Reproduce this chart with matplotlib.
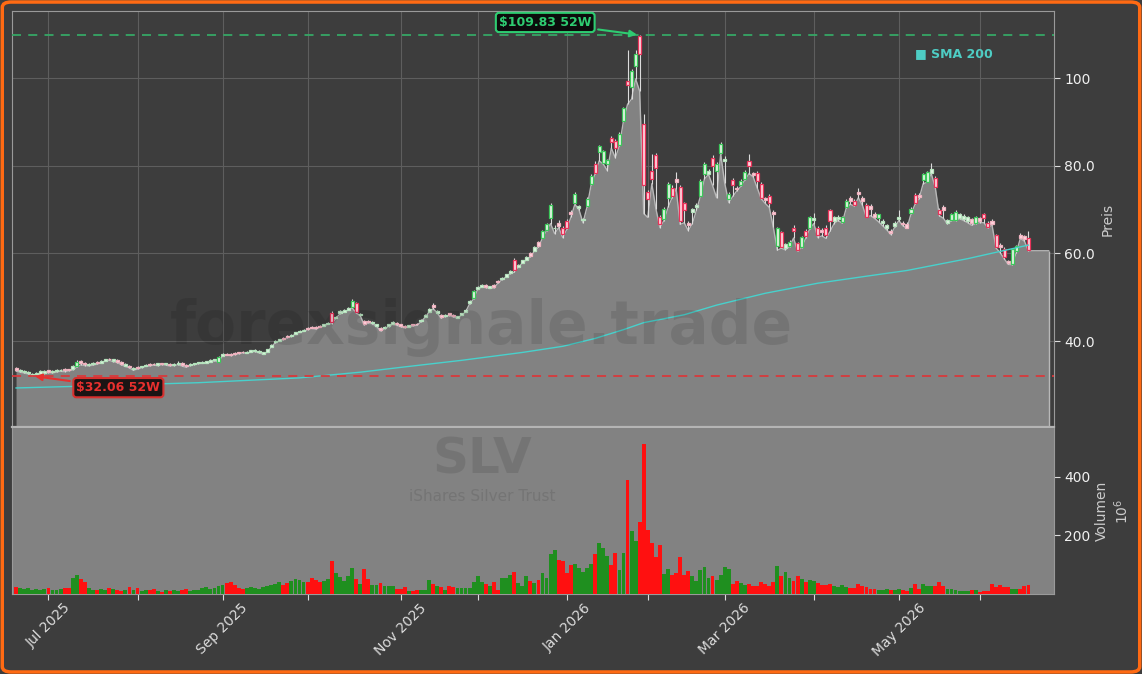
import numpy as np
import pandas as pd
import matplotlib
matplotlib.use("Agg")
import matplotlib.pyplot as plt
from matplotlib.patches import FancyBboxPatch
from matplotlib.ticker import FuncFormatter

# trading calendar
start_day = "2025-06-18"
holidays = ["2025-06-19", "2025-07-04", "2025-09-01", "2025-11-27", "2025-12-25",
            "2026-01-01", "2026-01-19", "2026-02-16", "2026-04-03", "2026-05-25"]

# daily OHLC (USD)
opens = [
    33.9, 33.1, 32.9, 32.7, 32.3, 32.5, 32.6, 32.8, 33.3, 32.9,
    33.1, 33.3, 33.6, 33.5, 33.6, 34.2, 35.5, 35.0, 34.5, 34.7,
    35.2, 35.1, 35.5, 36.0, 35.5, 35.6, 35.2, 34.4, 34.4, 33.6,
    34.0, 34.0, 34.3, 34.7, 34.8, 34.6, 34.9, 34.7, 34.8, 34.5,
    34.7, 35.0, 34.5, 34.5, 34.7, 34.9, 35.0, 35.1, 35.3, 35.6,
    35.3, 36.7, 37.1, 37.0, 37.2, 37.4, 37.6, 37.3, 37.6, 37.7,
    37.4, 37.1, 37.5, 38.7, 39.7, 40.1, 40.7, 41.1, 41.1, 41.7,
    42.1, 42.3, 43.0, 43.3, 43.1, 43.5, 43.5, 43.9, 46.4, 45.3,
    46.3, 46.7, 47.1, 47.7, 48.6, 46.0, 44.6, 44.6, 44.1, 43.5,
    43.0, 42.9, 43.4, 43.9, 44.1, 43.8, 43.5, 43.3, 43.8, 44.0,
    44.5, 45.5, 46.7, 48.2, 46.5, 45.9, 45.7, 46.3, 46.0, 45.3,
    46.0, 46.7, 48.6, 49.8, 51.9, 52.4, 52.8, 52.1, 52.8, 53.8,
    54.1, 54.7, 55.5, 58.6, 56.9, 57.9, 58.5, 60.0, 60.6, 62.5,
    63.6, 65.3, 68.0, 65.7, 67.0, 65.7, 67.3, 69.5, 71.4, 70.4,
    67.6, 70.9, 75.9, 80.5, 83.2, 80.7, 80.5, 86.4, 85.7, 84.8,
    90.2, 99.4, 97.9, 102.7, 109.5, 89.5, 74.0, 78.9, 82.5, 68.2,
    67.8, 72.7, 75.0, 77.0, 75.2, 71.4, 67.0, 69.5, 70.5, 73.2,
    78.2, 78.2, 81.8, 78.9, 83.0, 81.1, 72.5, 76.8, 75.0, 75.6,
    77.0, 81.1, 78.3, 78.4, 75.9, 72.6, 73.2, 69.5, 61.8, 64.8,
    61.3, 61.8, 65.9, 62.3, 61.5, 65.2, 65.9, 67.6, 65.9, 65.4,
    65.9, 69.8, 67.5, 67.9, 67.1, 70.5, 72.6, 72.0, 73.9, 72.7,
    71.1, 70.9, 69.0, 68.0, 67.0, 65.7, 65.2, 66.2, 67.8, 66.9,
    66.8, 69.3, 73.4, 73.4, 76.8, 76.4, 78.4, 77.3, 70.0, 70.5,
    66.9, 67.7, 67.7, 68.1, 67.8, 67.5, 67.8, 67.0, 68.0, 68.9,
    67.0, 67.5, 64.1, 62.0, 61.1, 58.2, 57.5, 60.5, 64.3, 63.9, 63.6,
]
highs = [
    34.0, 33.6, 33.3, 33.1, 32.8, 32.9, 33.4, 33.3, 33.5, 33.4,
    33.6, 33.7, 33.8, 33.7, 34.6, 35.6, 35.7, 35.2, 35.0, 35.2,
    35.4, 35.6, 35.9, 36.2, 36.0, 35.8, 35.4, 34.9, 34.6, 34.0,
    34.2, 34.4, 34.7, 34.9, 35.1, 35.0, 35.1, 35.0, 35.0, 34.9,
    35.4, 35.2, 34.7, 34.9, 35.1, 35.3, 35.4, 35.5, 35.8, 36.0,
    36.6, 37.2, 37.3, 37.2, 37.4, 37.6, 37.8, 37.7, 38.0, 38.2,
    37.9, 37.6, 38.3, 39.3, 40.2, 40.5, 40.9, 41.3, 41.5, 42.1,
    42.5, 42.7, 43.2, 43.5, 43.4, 43.7, 43.9, 44.3, 46.8, 45.8,
    47.0, 47.4, 47.8, 49.5, 48.9, 46.4, 44.8, 44.8, 44.6, 44.0,
    43.2, 43.4, 43.9, 44.5, 44.3, 44.0, 43.7, 43.7, 44.0, 44.2,
    45.0, 46.1, 47.6, 48.6, 47.0, 46.1, 46.1, 46.5, 46.2, 45.8,
    46.4, 47.3, 49.3, 51.7, 52.6, 53.0, 53.0, 52.6, 53.0, 54.0,
    54.6, 55.3, 56.2, 59.0, 57.6, 58.6, 59.4, 60.3, 61.6, 62.8,
    65.3, 66.9, 71.6, 66.5, 67.6, 66.2, 67.8, 70.0, 73.9, 71.0,
    68.0, 72.8, 78.0, 81.0, 84.8, 83.6, 81.6, 86.8, 86.0, 87.6,
    93.5, 106.3, 102.0, 106.5, 109.83, 91.9, 74.4, 82.7, 83.0, 68.8,
    70.6, 76.3, 75.5, 78.6, 75.6, 71.8, 67.3, 70.4, 71.4, 76.9,
    80.8, 79.2, 82.5, 80.8, 85.3, 82.3, 74.0, 77.3, 75.4, 76.9,
    79.0, 82.7, 78.6, 78.8, 76.2, 72.9, 73.5, 69.8, 66.1, 65.2,
    62.3, 63.0, 66.4, 62.6, 63.9, 65.6, 68.6, 69.3, 66.3, 65.8,
    66.4, 70.2, 68.5, 68.8, 68.6, 72.4, 73.0, 72.5, 75.0, 73.0,
    71.4, 71.3, 69.4, 69.1, 67.8, 66.6, 65.5, 67.4, 69.8, 67.3,
    67.1, 70.5, 73.8, 73.8, 78.3, 78.9, 80.7, 77.7, 70.4, 71.0,
    67.8, 69.3, 69.9, 69.2, 69.0, 68.6, 68.1, 68.6, 68.4, 69.3,
    67.3, 67.8, 64.4, 62.3, 61.4, 58.5, 61.2, 61.9, 64.6, 64.2, 65.0,
]
lows = [
    33.2, 32.9, 32.7, 32.5, 32.06, 32.3, 32.4, 32.6, 32.8, 32.7,
    32.9, 33.1, 33.0, 33.2, 33.4, 34.0, 34.6, 34.4, 34.3, 34.5,
    34.7, 35.0, 35.4, 35.6, 35.3, 35.1, 34.6, 34.2, 33.9, 33.3,
    33.6, 33.9, 34.2, 34.3, 34.5, 34.4, 34.6, 34.5, 34.3, 34.4,
    34.6, 34.3, 34.0, 34.4, 34.6, 34.8, 34.9, 35.0, 35.2, 35.5,
    35.2, 36.6, 36.8, 36.7, 36.9, 37.1, 37.3, 37.2, 37.5, 37.6,
    37.3, 37.0, 37.4, 38.6, 39.6, 40.0, 40.3, 40.8, 41.0, 41.6,
    42.0, 42.2, 42.6, 42.9, 42.7, 43.1, 43.4, 43.8, 44.0, 45.2,
    46.2, 46.6, 47.0, 47.6, 46.4, 45.8, 43.6, 44.2, 44.0, 43.4,
    42.3, 42.8, 43.3, 43.8, 43.6, 43.3, 43.0, 43.2, 43.4, 43.6,
    44.4, 45.4, 46.6, 47.4, 46.4, 45.2, 45.6, 45.8, 45.5, 45.2,
    45.9, 46.6, 48.5, 49.6, 51.8, 52.3, 52.2, 52.0, 52.1, 53.2,
    54.0, 54.6, 55.4, 55.7, 56.8, 57.8, 58.4, 59.2, 60.5, 61.4,
    63.5, 65.2, 66.8, 64.5, 65.9, 63.6, 65.5, 68.2, 71.2, 70.0,
    67.0, 70.6, 75.6, 78.2, 81.1, 80.4, 78.9, 84.0, 81.8, 84.6,
    90.2, 94.0, 95.2, 99.8, 97.0, 69.1, 68.2, 75.9, 70.2, 65.9,
    67.5, 70.5, 72.7, 74.8, 66.6, 67.0, 65.2, 66.8, 69.8, 73.0,
    77.0, 78.0, 75.5, 72.7, 82.7, 76.0, 71.6, 73.0, 74.3, 75.3,
    76.8, 78.2, 77.5, 75.0, 72.5, 71.4, 70.5, 66.0, 60.7, 61.2,
    60.8, 61.5, 63.5, 60.5, 61.3, 63.5, 65.6, 66.8, 63.6, 64.0,
    63.4, 65.0, 66.8, 67.5, 66.9, 70.3, 71.2, 70.8, 72.7, 71.0,
    68.2, 68.6, 68.0, 67.2, 66.3, 65.4, 64.3, 66.0, 67.5, 66.3,
    65.7, 69.0, 71.2, 72.5, 75.9, 76.2, 78.2, 75.0, 68.6, 68.0,
    66.7, 67.5, 67.5, 67.9, 67.5, 67.0, 66.4, 66.8, 67.0, 67.0,
    65.8, 66.5, 61.2, 60.2, 58.8, 57.5, 57.4, 60.2, 63.4, 62.8, 60.6,
]
closes = [
    33.5, 33.3, 33.1, 32.9, 32.6, 32.7, 33.2, 33.1, 33.0, 33.2,
    33.4, 33.5, 33.3, 33.4, 34.4, 35.3, 35.0, 34.7, 34.8, 35.0,
    35.0, 35.4, 35.8, 35.8, 35.8, 35.3, 34.8, 34.7, 34.1, 33.8,
    33.8, 34.3, 34.6, 34.5, 34.7, 34.9, 34.8, 34.9, 34.5, 34.8,
    35.1, 34.5, 34.3, 34.8, 35.0, 35.2, 35.3, 35.4, 35.6, 35.9,
    36.4, 37.0, 36.9, 36.8, 37.0, 37.2, 37.4, 37.6, 37.9, 38.0,
    37.7, 37.4, 38.1, 39.1, 40.0, 40.4, 40.5, 40.9, 41.4, 42.0,
    42.4, 42.6, 42.8, 43.0, 42.9, 43.3, 43.8, 44.2, 44.3, 45.6,
    46.8, 47.2, 47.6, 49.1, 46.6, 46.2, 43.8, 44.4, 44.4, 43.8,
    42.5, 43.3, 43.8, 44.3, 43.8, 43.5, 43.2, 43.6, 43.6, 43.8,
    44.9, 46.0, 47.4, 47.7, 46.8, 45.5, 46.0, 46.0, 45.7, 45.7,
    46.3, 47.1, 49.1, 51.4, 52.4, 52.8, 52.4, 52.5, 52.3, 53.4,
    54.5, 55.2, 56.0, 56.1, 57.4, 58.4, 59.2, 59.5, 61.4, 61.8,
    65.0, 66.6, 71.1, 65.9, 66.3, 64.5, 65.9, 68.9, 73.6, 70.8,
    67.9, 72.5, 77.7, 78.4, 84.5, 83.4, 81.4, 85.5, 84.1, 87.3,
    93.2, 98.4, 101.6, 105.4, 105.4, 75.5, 72.4, 77.0, 79.5, 66.8,
    70.2, 75.9, 73.2, 76.4, 67.5, 69.8, 66.4, 70.2, 71.1, 76.6,
    80.5, 78.9, 80.0, 80.5, 85.0, 81.6, 73.5, 75.5, 74.6, 76.6,
    78.6, 80.0, 77.9, 76.6, 72.7, 72.1, 71.6, 68.9, 65.7, 61.4,
    62.1, 62.7, 65.0, 60.7, 63.7, 64.0, 68.2, 68.0, 64.1, 64.8,
    64.1, 67.5, 68.2, 68.4, 68.2, 72.0, 72.0, 71.1, 73.6, 72.0,
    68.4, 70.2, 68.4, 68.9, 67.5, 66.4, 64.6, 67.0, 68.4, 66.6,
    65.9, 70.2, 71.4, 72.8, 78.0, 78.6, 79.3, 75.2, 68.9, 70.0,
    67.6, 68.9, 69.5, 68.9, 68.6, 68.3, 66.9, 68.2, 67.3, 68.0,
    66.1, 66.8, 61.4, 61.4, 59.1, 57.7, 60.9, 61.6, 63.6, 63.2, 60.7,
]
# daily volume in millions of shares
volumes = [
    25, 22, 18, 20, 15, 17, 14, 16, 20, 15, 14, 16, 22, 20,
    55, 65, 50, 40,
    20, 15, 12, 18, 14, 22, 16, 12, 10, 14, 25, 12, 20,
    10, 12, 15, 18, 10, 8, 12, 10, 14, 9, 12, 16, 10, 12, 14, 20, 25, 18, 22, 28,
    32, 38, 40, 30, 22, 18, 20, 24, 22, 18, 25, 28,
    30, 35, 40, 32, 38, 45, 52, 48, 40, 42, 55, 48, 40, 45, 52,
    112, 70, 58, 45, 62, 88, 52, 35, 85, 50, 30, 32,
    37, 26, 26, 28, 17, 17, 25, 11, 11, 13,
    15, 15, 49, 34, 28, 23, 15, 28, 25, 20,
    20, 22, 20, 40, 62, 42, 34, 28, 42, 15,
    54, 54, 66, 76, 37, 28, 62, 45, 37, 47,
    71, 56, 136, 150, 115, 113, 71, 99, 102, 90,
    76, 90, 102, 136, 174, 156, 130, 99, 139, 82,
    139, 390, 215, 181, 245, 511, 218, 174, 127, 167,
    68, 86, 66, 71, 127, 66, 79, 62, 45, 82,
    93, 53, 62, 49, 66, 93, 85, 34, 45, 37,
    32, 34, 28, 28, 42, 35, 28, 42, 94,
    60, 75, 55, 45, 62, 50, 40, 48, 45, 38, 30, 32, 35, 28, 25, 30, 24, 20,
    19, 34, 28, 25, 18, 18, 14, 14, 18, 14,
    12, 18, 12, 10, 20, 34, 18, 34, 28, 28,
    28, 42, 28, 18, 18, 15, 10, 10, 10, 15,
    15, 8, 10, 10, 34, 25, 30, 25, 25, 18,
    18, 18, 28, 30,
]
# 200-day simple moving average, sampled along the curve
sma_idx = [0, 20, 45, 70, 85, 95, 110, 125, 135, 143, 150, 155, 165, 173, 185, 198, 210, 220, 235, 250]
sma_vals = [29.3, 29.8, 30.5, 31.6, 32.9, 34.0, 35.6, 37.4, 38.8, 40.6, 42.6, 44.2, 46.0, 48.2, 50.9,
            53.2, 54.8, 56.1, 58.8, 61.9]

n = min(len(opens), len(highs), len(lows), len(closes), len(volumes))
o = np.array(opens[:n])
h = np.array(highs[:n])
l = np.array(lows[:n])
c = np.array(closes[:n])
v = np.array(volumes[:n])
x = np.arange(n)
up = c >= o

days = pd.bdate_range(start_day, periods=n + 30)
days = days[~days.isin(pd.to_datetime(holidays))][:n]

BG = "#3d3d3d"
FILL = "#828282"
fig = plt.figure(figsize=(11.42, 6.74), dpi=100, facecolor=BG)
ax = fig.add_axes([0.0105, 0.3665, 0.9124, 0.6172])
axv = fig.add_axes([0.0105, 0.1187, 0.9124, 0.2463], sharex=ax)

# price panel
ax.set_facecolor(BG)
ax.set_ylim(20.4, 115.3)
ax.set_xlim(-1, n + 5.3)
xf = np.append(x, n + 4)
yf = np.append(l, l[-1])
ax.fill_between(xf, yf, 0, color=FILL, lw=0, zorder=2)
ax.plot(xf, yf, color="#b8b8b8", lw=1, zorder=2.2)
ax.vlines(n + 4, 0, l[-1], color="#b8b8b8", lw=1, zorder=2.2)

# candles: small bodies look almost white, larger ones carry the colour
big = np.abs(c - o) > 0.9
edge = np.where(up, np.where(big, "#3cc85a", "#b5e3bd"), np.where(big, "#e8335a", "#f0b3c0"))
face = np.where(up, "#e6f6e6", "#ffd6df")
ax.vlines(x, l, h, color="#dcdcdc", lw=0.8, zorder=3)
body_lo = np.minimum(o, c)
body_h = np.maximum(np.abs(c - o), 0.15)
ax.bar(x, body_h, bottom=body_lo, width=0.75, color=face, edgecolor=edge, linewidth=0.9, zorder=4)

ax.plot(sma_idx, sma_vals, color="#48d1cc", lw=1, zorder=5)

i_hi = int(np.argmax(h))
i_lo = int(np.argmin(l))
ax.axhline(h[i_hi], color="#36a765", ls=(0, (5, 4)), lw=1.3, zorder=5)
ax.axhline(l[i_lo], color="#d8393c", ls=(0, (5, 4)), lw=1.3, zorder=5)

ax.annotate(f"${h[i_hi]:.2f} 52W", xy=(i_hi, h[i_hi]), xytext=(-68, 9), textcoords="offset points",
            ha="center", va="center", color="#2ecc71", fontsize=9, fontweight="bold", zorder=7,
            bbox=dict(boxstyle="round,pad=0.25", fc="#0c0c0c", ec="#2ecc71", lw=1.5),
            arrowprops=dict(arrowstyle="-|>", color="#2ecc71", lw=1.5, mutation_scale=10))
ax.annotate(f"${l[i_lo]:.2f} 52W", xy=(i_lo, l[i_lo]), xytext=(62, -8.5), textcoords="offset points",
            ha="center", va="center", color="#e8302e", fontsize=9, fontweight="bold", zorder=7,
            bbox=dict(boxstyle="round,pad=0.25", fc="#1c1414", ec="#d8302e", lw=1.5),
            arrowprops=dict(arrowstyle="-|>", color="#e8302e", lw=1.5, mutation_scale=10))

ax.text(0.8666, 0.8966, "\u25a0 SMA 200", transform=ax.transAxes, color="#4ecdc4",
        fontsize=9, fontweight="bold", va="center", ha="left", zorder=7)
ax.text(0.451, 0.238, "forexsignale.trade", transform=ax.transAxes, ha="center", va="center",
        fontsize=43, fontweight="bold", color="black", alpha=0.1, zorder=6)

month_start = [i for i in range(1, n) if days[i].month != days[i - 1].month]
month_lab = [days[i].strftime("%b %Y") if days[i].month % 2 == 1 else "" for i in month_start]

ax.set_xticks(month_start)
ax.tick_params(axis="x", labelbottom=False, length=0)
ax.set_yticks([40, 60, 80, 100])
ax.yaxis.set_major_formatter(FuncFormatter(lambda val, pos: f"{val:.0f}" if val >= 100 else f"{val:.1f}"))
ax.yaxis.tick_right()
ax.yaxis.set_label_position("right")
ax.tick_params(axis="y", colors="#dddddd", labelcolor="#f0f0f0", labelsize=10, length=4)
ax.set_ylabel("Preis", color="#cccccc", fontsize=10, labelpad=4)
ax.grid(True, color="#5e5e5e", lw=0.8, zorder=0)
for side, sp in ax.spines.items():
    sp.set_color("#9a9a9a")
ax.spines["bottom"].set_color("#b4b4b4")
ax.spines["bottom"].set_linewidth(1.6)

# volume panel
axv.set_facecolor(FILL)
axv.bar(x, v, width=0.95, color=np.where(up, "#1f8f1f", "#ff1010"), zorder=3)
axv.set_ylim(0, 566)
axv.set_yticks([200, 400])
axv.yaxis.tick_right()
axv.yaxis.set_label_position("right")
axv.tick_params(axis="y", colors="#dddddd", labelcolor="#f0f0f0", labelsize=10, length=4)
axv.set_ylabel("Volumen\n$10^6$", color="#cccccc", fontsize=10, labelpad=3)
axv.set_xticks(month_start)
axv.set_xticklabels(month_lab, rotation=45, ha="center", color="#f0f0f0", fontsize=10)
axv.tick_params(axis="x", colors="#dddddd", length=4, pad=1)
for side, sp in axv.spines.items():
    sp.set_color("#9a9a9a")
axv.spines["top"].set_visible(False)
axv.text(0.451, 0.81, "SLV", transform=axv.transAxes, ha="center", va="center",
         fontsize=36, fontweight="bold", color="black", alpha=0.1, zorder=6)
axv.text(0.451, 0.585, "iShares Silver Trust", transform=axv.transAxes, ha="center", va="center",
         fontsize=11, color="black", alpha=0.1, zorder=6)

fig.patches.append(FancyBboxPatch((0.002, 0.003), 0.996, 0.994, boxstyle="round,pad=0,rounding_size=0.008",
                                  transform=fig.transFigure, fill=False, ec="#ff6a13", lw=2.5))

fig.savefig("out.png", dpi=100, facecolor=BG)
